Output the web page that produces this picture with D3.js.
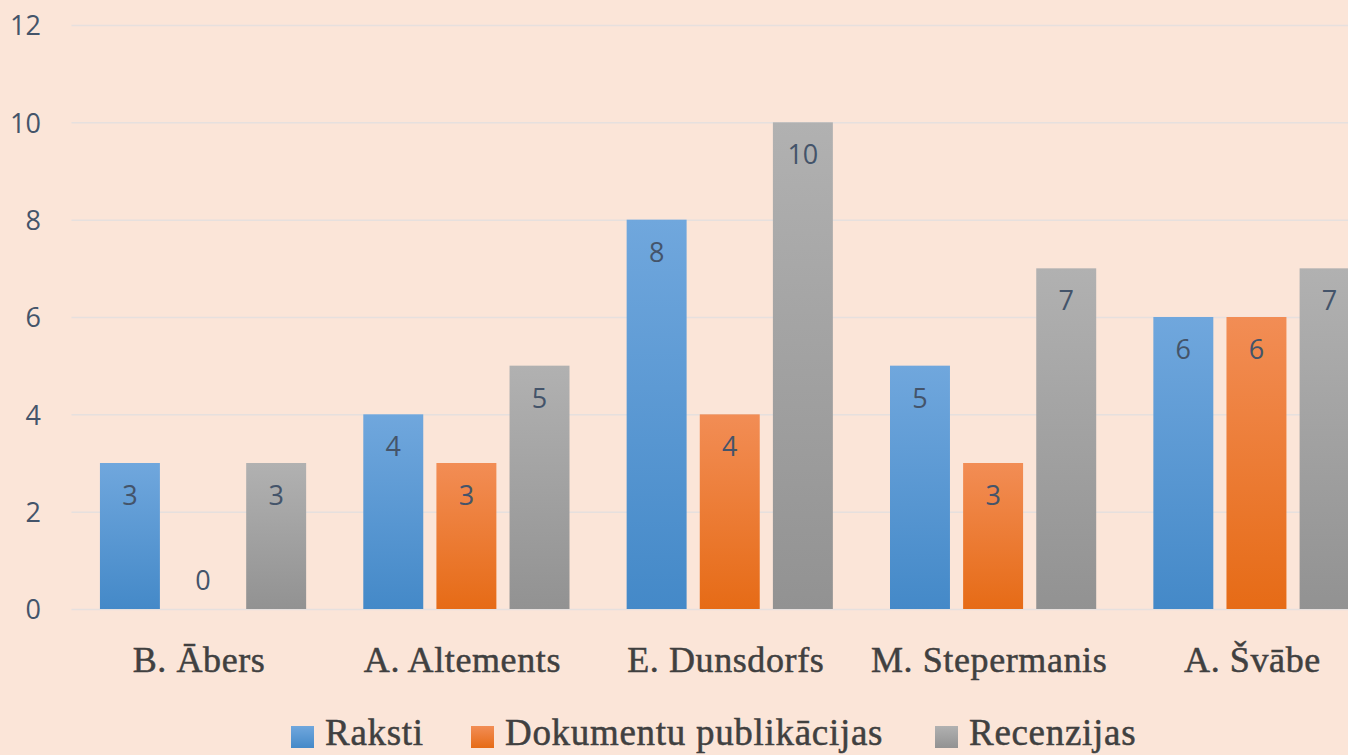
<!DOCTYPE html>
<html><head><meta charset="utf-8">
<script src="https://cdn.jsdelivr.net/npm/d3@7"></script>
<style>html,body{margin:0;padding:0;background:#FBE5D8;overflow:hidden}</style>
</head><body>
<svg id="c" width="1348" height="755"></svg>
<script>
const categories = ["B. Ābers", "A. Altements", "E. Dunsdorfs", "M. Stepermanis", "A. Švābe"];
const seriesNames = ["Raksti", "Dokumentu publikācijas", "Recenzijas"];
const raksti = [3, 4, 8, 5, 6];
const dokumenti = [0, 3, 4, 3, 6];
const recenzijas = [3, 5, 10, 7, 7];
const yTicks = [0, 2, 4, 6, 8, 10, 12];

const seriesValues = [raksti, dokumenti, recenzijas];
const gradColors = [["#70A7DD", "#4489C8"], ["#F28D55", "#E66B16"], ["#B1B1B1", "#929292"]];

const svg = d3.select("#c");
svg.append("rect").attr("width", 1348).attr("height", 755).attr("fill", "#FBE5D8");

const defs = svg.append("defs");
gradColors.forEach((c, i) => {
  const g = defs.append("linearGradient").attr("id", "g" + i).attr("x1", 0).attr("y1", 0).attr("x2", 0).attr("y2", 1);
  g.append("stop").attr("offset", "0%").attr("stop-color", c[0]);
  g.append("stop").attr("offset", "100%").attr("stop-color", c[1]);
});

const plotLeft = 71.5, plotRight = 1388, plotTop = 25, plotBottom = 609;
const y = d3.scaleLinear().domain([0, 12]).range([plotBottom, plotTop]);
const x0 = d3.scaleBand().domain(categories).range([plotLeft, plotRight]).paddingInner(0.217).paddingOuter(0.108);
const x1 = d3.scaleBand().domain(seriesNames).range([0, x0.bandwidth()]).paddingInner(0.18);

// gridlines
svg.append("g").selectAll("line").data(yTicks).join("line")
  .attr("x1", plotLeft).attr("x2", plotRight)
  .attr("y1", d => y(d) + 0.5).attr("y2", d => y(d) + 0.5)
  .attr("stroke", "#E6E0DE").attr("stroke-width", 1.5);

// y axis labels
const yAxis = d3.axisLeft(y).tickValues(yTicks).tickSize(0).tickPadding(0);
const ya = svg.append("g").attr("transform", "translate(41,0)").call(yAxis);
ya.select(".domain").remove();
ya.selectAll("text").attr("font-family", "'Open Sans', sans-serif").attr("font-size", 27)
  .attr("fill", "#44546A").attr("dy", "0.36em");

// bars
const groups = svg.append("g").selectAll("g").data(categories).join("g")
  .attr("transform", d => `translate(${x0(d)},0)`);
groups.each(function(cat, ci) {
  const g = d3.select(this);
  seriesNames.forEach((s, si) => {
    const v = seriesValues[si][ci];
    g.append("rect").attr("x", x1(s)).attr("width", x1.bandwidth())
      .attr("y", y(v)).attr("height", y(0) - y(v)).attr("fill", `url(#g${si})`);
    g.append("text").attr("x", x1(s) + x1.bandwidth() / 2)
      .attr("y", v === 0 ? y(0) - 19 : y(v) + 42)
      .attr("text-anchor", "middle").attr("font-family", "'Open Sans', sans-serif")
      .attr("font-size", 27).attr("fill", "#44546A").text(v);
  });
});

// x axis labels
const xAxis = d3.axisBottom(x0).tickSize(0).tickPadding(0);
const xa = svg.append("g").attr("transform", "translate(-4,672)").call(xAxis);
xa.select(".domain").remove();
xa.selectAll("text").attr("font-family", "'Liberation Serif', serif").attr("font-size", 36)
  .attr("letter-spacing", 0.6).attr("fill", "#404040").attr("stroke", "#404040").attr("stroke-width", 0.5).attr("dy", 0);

// legend
const legendX = [291, 471, 935];
const lg = svg.append("g").selectAll("g").data(seriesNames).join("g")
  .attr("transform", (d, i) => `translate(${legendX[i]},726)`);
lg.append("rect").attr("width", 23).attr("height", 22).attr("fill", (d, i) => `url(#g${i})`);
lg.append("text").attr("x", 34).attr("y", 19).attr("font-family", "'Liberation Serif', serif")
  .attr("font-size", 37).attr("letter-spacing", 0.7).attr("fill", "#404040")
  .attr("stroke", "#404040").attr("stroke-width", 0.5).text(d => d);
</script>
</body></html>
